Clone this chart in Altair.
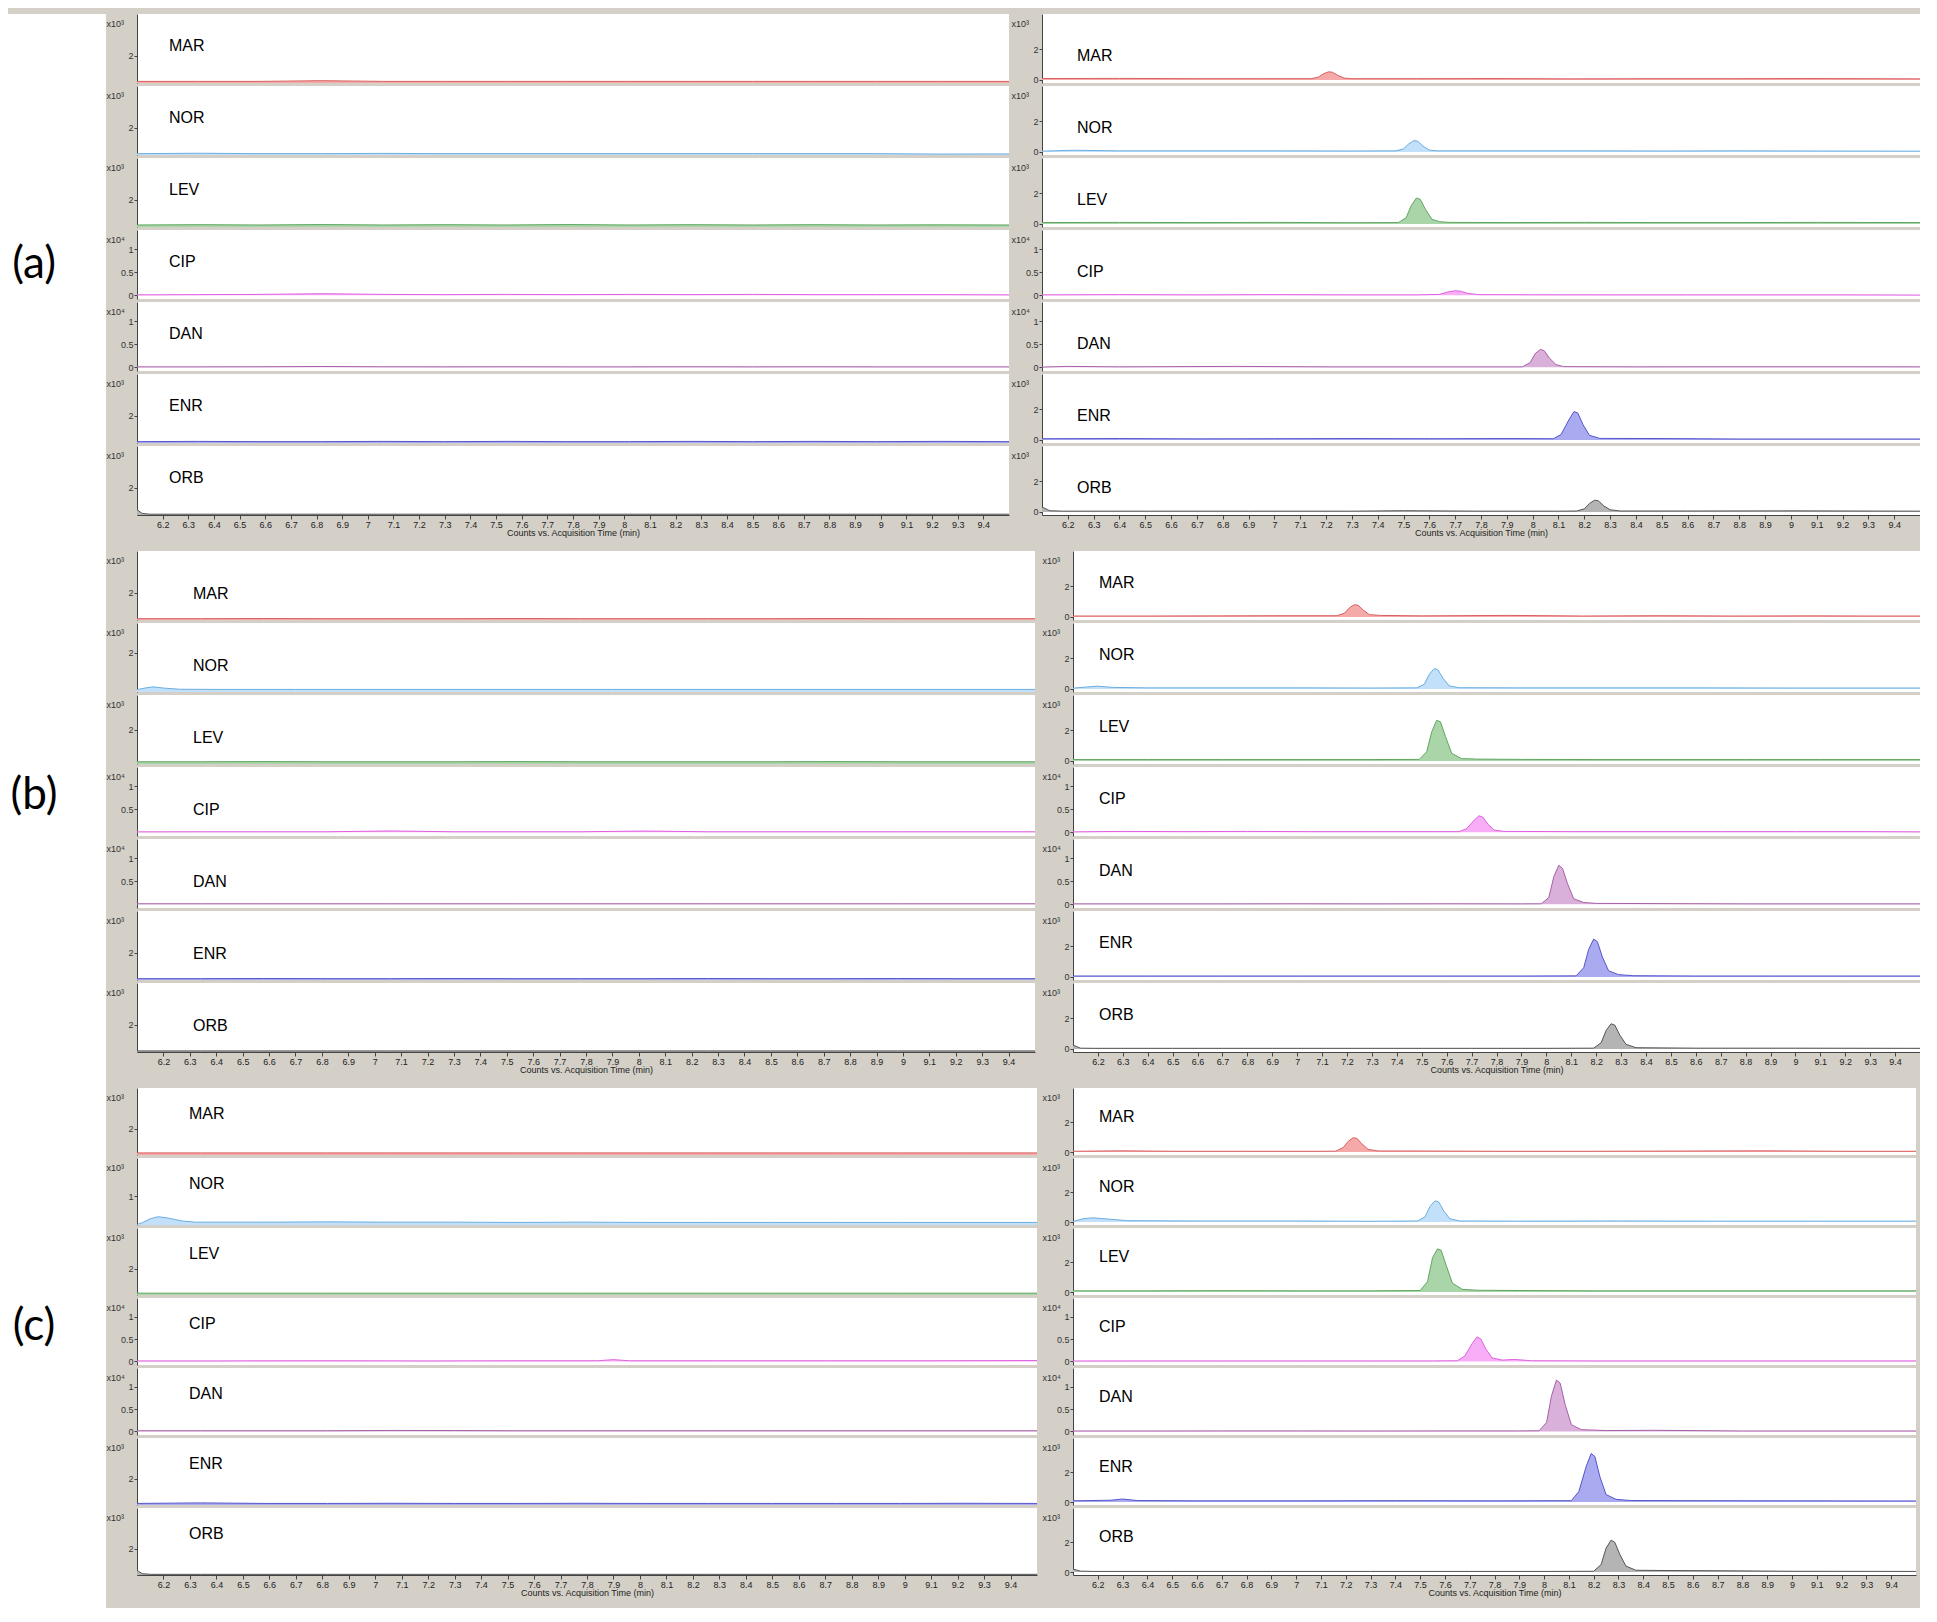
import altair as alt
import pandas as pd

# ---------------- data ----------------
ROW_LABELS = ["(a)", "(b)", "(c)"]
COMPOUNDS = ["MAR", "NOR", "LEV", "CIP", "DAN", "ENR", "ORB"]
EXP_TITLE = {"MAR": "x10³", "NOR": "x10³", "LEV": "x10³", "CIP": "x10⁴",
             "DAN": "x10⁴", "ENR": "x10³", "ORB": "x10³"}
X_TICKS = [6.2, 6.3, 6.4, 6.5, 6.6, 6.7, 6.8, 6.9, 7.0, 7.1, 7.2, 7.3, 7.4, 7.5,
           7.6, 7.7, 7.8, 7.9, 8.0, 8.1, 8.2, 8.3, 8.4, 8.5, 8.6, 8.7, 8.8, 8.9,
           9.0, 9.1, 9.2, 9.3, 9.4]
X_TITLE = "Counts vs. Acquisition Time (min)"

T_FLAT = [6.10, 6.34, 6.58, 6.82, 7.06, 7.30, 7.54, 7.78, 8.02, 8.26, 8.50, 8.74, 8.98, 9.22, 9.50]
T_SPIKE = [6.10, 6.12, 6.15, 6.34, 6.58, 6.82, 7.06, 7.30, 7.54, 7.78, 8.02, 8.26, 8.50, 8.74, 8.98, 9.22, 9.50]

# ---- (a) blank ----
a_left_MAR_v = [0.12, 0.12, 0.12, 0.17, 0.12, 0.12, 0.12, 0.12, 0.12, 0.12, 0.12, 0.12, 0.12, 0.12, 0.12]
a_left_NOR_v = [0.10, 0.13, 0.10, 0.10, 0.12, 0.10, 0.10, 0.10, 0.10, 0.10, 0.10, 0.10, 0.10, 0.07, 0.08]
a_left_LEV_v = [0.15, 0.17, 0.15, 0.18, 0.15, 0.17, 0.15, 0.18, 0.15, 0.17, 0.15, 0.17, 0.15, 0.16, 0.15]
a_left_CIP_v = [0.01, 0.015, 0.02, 0.035, 0.02, 0.015, 0.02, 0.015, 0.02, 0.015, 0.02, 0.015, 0.015, 0.015, 0.01]
a_left_DAN_v = [0.01, 0.01, 0.012, 0.018, 0.012, 0.01, 0.012, 0.01, 0.01, 0.012, 0.01, 0.012, 0.01, 0.01, 0.01]
a_left_ENR_v = [0.10, 0.12, 0.10, 0.10, 0.12, 0.10, 0.12, 0.10, 0.10, 0.12, 0.10, 0.12, 0.10, 0.12, 0.10]
a_left_ORB_v = [0.40, 0.12, 0.06, 0.06, 0.06, 0.06, 0.06, 0.06, 0.06, 0.06, 0.06, 0.06, 0.06, 0.06, 0.06, 0.06, 0.06]

# ---- (a) spiked ----
a_right_MAR_t = [6.10, 6.40, 6.70, 6.95, 7.14, 7.17, 7.19, 7.21, 7.225, 7.245, 7.27, 7.30, 7.55, 7.85, 8.15, 8.45, 8.75, 9.05, 9.30, 9.50]
a_right_MAR_v = [0.09, 0.10, 0.08, 0.08, 0.08, 0.18, 0.40, 0.53, 0.50, 0.30, 0.12, 0.08, 0.08, 0.09, 0.07, 0.08, 0.08, 0.09, 0.08, 0.07]
a_right_NOR_t = [6.10, 6.22, 6.40, 6.70, 7.00, 7.30, 7.47, 7.50, 7.52, 7.54, 7.555, 7.575, 7.60, 7.63, 7.90, 8.20, 8.50, 8.80, 9.10, 9.50]
a_right_NOR_v = [0.05, 0.11, 0.07, 0.07, 0.07, 0.06, 0.07, 0.20, 0.52, 0.74, 0.70, 0.38, 0.12, 0.07, 0.07, 0.07, 0.06, 0.07, 0.06, 0.05]
a_right_LEV_t = [6.10, 6.40, 6.70, 7.00, 7.30, 7.48, 7.51, 7.53, 7.55, 7.565, 7.585, 7.61, 7.64, 7.68, 7.90, 8.20, 8.50, 8.80, 9.10, 9.50]
a_right_LEV_v = [0.09, 0.10, 0.09, 0.10, 0.08, 0.09, 0.40, 1.20, 1.69, 1.60, 0.95, 0.30, 0.14, 0.10, 0.09, 0.10, 0.09, 0.09, 0.10, 0.09]
a_right_CIP_t = [6.10, 6.40, 6.70, 7.00, 7.30, 7.55, 7.64, 7.67, 7.70, 7.72, 7.75, 7.79, 8.00, 8.30, 8.60, 8.90, 9.20, 9.50]
a_right_CIP_v = [0.01, 0.015, 0.01, 0.015, 0.01, 0.01, 0.02, 0.07, 0.10, 0.09, 0.04, 0.015, 0.012, 0.01, 0.01, 0.01, 0.01, 0.005]
a_right_DAN_t = [6.10, 6.20, 6.40, 6.85, 7.20, 7.60, 7.90, 7.96, 7.99, 8.01, 8.03, 8.045, 8.065, 8.09, 8.12, 8.40, 8.80, 9.20, 9.50]
a_right_DAN_v = [0.005, 0.02, 0.01, 0.02, 0.01, 0.01, 0.01, 0.01, 0.10, 0.30, 0.39, 0.36, 0.20, 0.06, 0.015, 0.01, 0.012, 0.012, 0.01]
a_right_ENR_t = [6.10, 6.40, 6.70, 7.00, 7.30, 7.60, 7.90, 8.08, 8.11, 8.14, 8.16, 8.175, 8.195, 8.22, 8.26, 8.50, 8.80, 9.10, 9.50]
a_right_ENR_v = [0.08, 0.09, 0.07, 0.08, 0.09, 0.08, 0.09, 0.08, 0.35, 1.30, 1.85, 1.75, 1.00, 0.30, 0.10, 0.09, 0.06, 0.06, 0.06]
a_right_ORB_t = [6.10, 6.13, 6.18, 6.50, 6.90, 7.30, 7.50, 7.80, 8.10, 8.17, 8.20, 8.22, 8.24, 8.255, 8.275, 8.30, 8.34, 8.60, 9.00, 9.50]
a_right_ORB_v = [0.32, 0.08, 0.05, 0.05, 0.05, 0.05, 0.08, 0.05, 0.05, 0.06, 0.20, 0.55, 0.77, 0.72, 0.40, 0.14, 0.06, 0.06, 0.07, 0.05]

# ---- (b) blank ----
b_left_MAR_v = [0.10, 0.10, 0.11, 0.10, 0.10, 0.10, 0.11, 0.10, 0.10, 0.10, 0.10, 0.11, 0.10, 0.10, 0.10]
b_left_NOR_t = [6.10, 6.13, 6.16, 6.20, 6.26, 6.40, 6.70, 7.00, 7.30, 7.60, 7.90, 8.20, 8.50, 8.80, 9.10, 9.50]
b_left_NOR_v = [0.12, 0.20, 0.26, 0.20, 0.14, 0.13, 0.13, 0.13, 0.13, 0.13, 0.13, 0.13, 0.13, 0.13, 0.13, 0.13]
b_left_LEV_v = [0.13, 0.13, 0.14, 0.13, 0.13, 0.13, 0.14, 0.13, 0.13, 0.13, 0.13, 0.14, 0.13, 0.13, 0.13]
b_left_CIP_v = [0.01, 0.012, 0.012, 0.012, 0.03, 0.012, 0.012, 0.012, 0.028, 0.012, 0.012, 0.012, 0.012, 0.012, 0.012]
b_left_DAN_v = [0.012, 0.012, 0.012, 0.012, 0.012, 0.012, 0.012, 0.012, 0.012, 0.012, 0.012, 0.012, 0.012, 0.012, 0.012]
b_left_ENR_v = [0.10, 0.10, 0.11, 0.10, 0.10, 0.11, 0.10, 0.10, 0.10, 0.11, 0.10, 0.10, 0.11, 0.10, 0.10]
b_left_ORB_v = [0.08, 0.08, 0.08, 0.08, 0.08, 0.08, 0.08, 0.08, 0.08, 0.08, 0.08, 0.08, 0.08, 0.08, 0.08]

# ---- (b) spiked ----
b_right_MAR_t = [6.10, 6.40, 6.70, 6.90, 7.16, 7.19, 7.21, 7.23, 7.245, 7.265, 7.29, 7.33, 7.50, 7.85, 8.15, 8.45, 8.75, 9.05, 9.30, 9.50]
b_right_MAR_v = [0.06, 0.06, 0.07, 0.08, 0.08, 0.25, 0.60, 0.80, 0.76, 0.45, 0.15, 0.10, 0.07, 0.10, 0.06, 0.08, 0.06, 0.07, 0.06, 0.06]
b_right_NOR_t = [6.10, 6.15, 6.20, 6.26, 6.40, 6.70, 7.00, 7.30, 7.48, 7.51, 7.53, 7.55, 7.565, 7.585, 7.61, 7.65, 7.90, 8.20, 8.60, 9.00, 9.50]
b_right_NOR_v = [0.05, 0.12, 0.18, 0.10, 0.07, 0.07, 0.07, 0.06, 0.07, 0.30, 0.95, 1.33, 1.25, 0.70, 0.20, 0.08, 0.07, 0.07, 0.07, 0.06, 0.06]
b_right_LEV_t = [6.10, 6.40, 6.70, 7.00, 7.30, 7.49, 7.52, 7.54, 7.56, 7.575, 7.595, 7.62, 7.66, 7.72, 7.90, 8.20, 8.50, 8.80, 9.10, 9.50]
b_right_LEV_v = [0.09, 0.09, 0.09, 0.09, 0.09, 0.10, 0.60, 1.90, 2.65, 2.55, 1.60, 0.50, 0.15, 0.12, 0.10, 0.09, 0.09, 0.09, 0.09, 0.09]
b_right_CIP_t = [6.10, 6.30, 6.55, 6.80, 7.05, 7.30, 7.55, 7.65, 7.68, 7.71, 7.73, 7.745, 7.765, 7.79, 7.83, 8.10, 8.40, 8.70, 9.00, 9.30, 9.50]
b_right_CIP_v = [0.01, 0.02, 0.015, 0.02, 0.015, 0.015, 0.015, 0.015, 0.08, 0.26, 0.36, 0.33, 0.18, 0.05, 0.02, 0.015, 0.015, 0.015, 0.015, 0.015, 0.01]
b_right_DAN_t = [6.10, 6.40, 6.70, 7.00, 7.30, 7.60, 7.90, 7.98, 8.01, 8.03, 8.05, 8.065, 8.085, 8.11, 8.15, 8.20, 8.50, 8.80, 9.10, 9.50]
b_right_DAN_v = [0.01, 0.01, 0.01, 0.012, 0.01, 0.012, 0.01, 0.012, 0.15, 0.60, 0.85, 0.78, 0.45, 0.12, 0.04, 0.02, 0.015, 0.01, 0.01, 0.01]
b_right_ENR_t = [6.10, 6.40, 6.70, 7.00, 7.30, 7.60, 7.90, 8.12, 8.15, 8.17, 8.19, 8.205, 8.225, 8.25, 8.29, 8.35, 8.60, 8.90, 9.20, 9.50]
b_right_ENR_v = [0.06, 0.06, 0.06, 0.06, 0.06, 0.06, 0.06, 0.07, 0.60, 1.80, 2.47, 2.30, 1.30, 0.40, 0.15, 0.08, 0.06, 0.06, 0.06, 0.06]
b_right_ORB_t = [6.10, 6.13, 6.18, 6.50, 6.90, 7.30, 7.70, 8.00, 8.19, 8.22, 8.24, 8.26, 8.275, 8.295, 8.32, 8.36, 8.60, 9.00, 9.50]
b_right_ORB_v = [0.25, 0.05, 0.04, 0.04, 0.04, 0.04, 0.04, 0.04, 0.05, 0.40, 1.20, 1.64, 1.55, 0.90, 0.30, 0.08, 0.05, 0.05, 0.04]

# ---- (c) blank ----
c_left_MAR_v = [0.16, 0.16, 0.16, 0.16, 0.16, 0.16, 0.16, 0.16, 0.16, 0.16, 0.16, 0.16, 0.16, 0.16, 0.16]
c_left_NOR_t = [6.10, 6.12, 6.15, 6.18, 6.22, 6.27, 6.32, 6.58, 6.82, 7.06, 7.30, 7.54, 7.78, 8.02, 8.26, 8.50, 8.74, 8.98, 9.22, 9.50]
c_left_NOR_v = [0.02, 0.08, 0.22, 0.29, 0.24, 0.14, 0.10, 0.10, 0.11, 0.10, 0.10, 0.09, 0.10, 0.09, 0.09, 0.09, 0.09, 0.09, 0.09, 0.09]
c_left_LEV_v = [0.14, 0.14, 0.14, 0.14, 0.14, 0.14, 0.14, 0.14, 0.14, 0.14, 0.14, 0.14, 0.14, 0.14, 0.14]
c_left_CIP_t = [6.10, 6.40, 6.80, 7.20, 7.60, 7.84, 7.90, 7.96, 8.30, 8.70, 9.10, 9.50]
c_left_CIP_v = [0.012, 0.012, 0.015, 0.012, 0.015, 0.015, 0.04, 0.015, 0.015, 0.015, 0.015, 0.02]
c_left_DAN_v = [0.015, 0.015, 0.015, 0.015, 0.022, 0.02, 0.015, 0.015, 0.015, 0.015, 0.015, 0.015, 0.015, 0.015, 0.015]
c_left_ENR_v = [0.12, 0.16, 0.12, 0.12, 0.13, 0.12, 0.12, 0.13, 0.12, 0.12, 0.12, 0.12, 0.12, 0.13, 0.12]
c_left_ORB_v = [0.35, 0.10, 0.05, 0.05, 0.05, 0.05, 0.05, 0.05, 0.05, 0.05, 0.05, 0.05, 0.05, 0.05, 0.05, 0.05, 0.05]

# ---- (c) spiked ----
c_right_MAR_t = [6.10, 6.30, 6.50, 6.80, 7.10, 7.16, 7.19, 7.21, 7.23, 7.245, 7.265, 7.29, 7.33, 7.45, 7.80, 8.20, 8.90, 9.20, 9.50]
c_right_MAR_v = [0.05, 0.08, 0.05, 0.05, 0.05, 0.06, 0.30, 0.72, 0.96, 0.92, 0.55, 0.18, 0.07, 0.07, 0.05, 0.05, 0.08, 0.05, 0.05]
c_right_NOR_t = [6.10, 6.14, 6.18, 6.24, 6.32, 6.60, 7.00, 7.30, 7.49, 7.52, 7.54, 7.56, 7.575, 7.595, 7.62, 7.66, 7.90, 8.30, 8.70, 9.10, 9.50]
c_right_NOR_v = [0.03, 0.22, 0.28, 0.20, 0.09, 0.07, 0.07, 0.05, 0.07, 0.35, 1.05, 1.42, 1.35, 0.75, 0.22, 0.07, 0.06, 0.07, 0.06, 0.06, 0.06]
c_right_LEV_t = [6.10, 6.40, 6.70, 7.00, 7.30, 7.50, 7.53, 7.55, 7.57, 7.585, 7.605, 7.63, 7.67, 7.73, 7.90, 8.20, 8.50, 8.80, 9.10, 9.50]
c_right_LEV_v = [0.08, 0.08, 0.09, 0.08, 0.08, 0.10, 0.70, 2.30, 2.90, 2.80, 1.80, 0.60, 0.18, 0.12, 0.10, 0.08, 0.08, 0.08, 0.08, 0.08]
c_right_CIP_t = [6.10, 6.40, 6.70, 7.00, 7.30, 7.55, 7.65, 7.68, 7.71, 7.73, 7.745, 7.765, 7.79, 7.83, 7.88, 7.95, 8.20, 8.60, 9.00, 9.50]
c_right_CIP_v = [0.01, 0.012, 0.012, 0.012, 0.012, 0.012, 0.015, 0.12, 0.40, 0.55, 0.50, 0.28, 0.08, 0.03, 0.045, 0.015, 0.012, 0.012, 0.012, 0.012]
c_right_DAN_t = [6.10, 6.40, 6.70, 7.00, 7.30, 7.60, 7.90, 7.98, 8.01, 8.03, 8.05, 8.065, 8.085, 8.11, 8.15, 8.25, 8.45, 8.80, 9.20, 9.50]
c_right_DAN_v = [0.01, 0.01, 0.012, 0.012, 0.01, 0.012, 0.012, 0.015, 0.20, 0.80, 1.15, 1.08, 0.60, 0.15, 0.04, 0.02, 0.025, 0.01, 0.01, 0.01]
c_right_ENR_t = [6.10, 6.25, 6.30, 6.36, 6.60, 7.00, 7.40, 7.80, 8.11, 8.14, 8.17, 8.19, 8.205, 8.225, 8.25, 8.29, 8.35, 8.60, 9.00, 9.50]
c_right_ENR_v = [0.08, 0.12, 0.20, 0.10, 0.08, 0.08, 0.09, 0.08, 0.09, 0.70, 2.40, 3.26, 3.05, 1.70, 0.50, 0.18, 0.10, 0.09, 0.08, 0.07]
c_right_ORB_t = [6.10, 6.13, 6.18, 6.50, 6.90, 7.30, 7.70, 8.00, 8.20, 8.23, 8.25, 8.27, 8.285, 8.305, 8.33, 8.37, 8.50, 8.75, 9.00, 9.50]
c_right_ORB_v = [0.20, 0.06, 0.04, 0.04, 0.04, 0.04, 0.04, 0.04, 0.05, 0.50, 1.60, 2.14, 2.00, 1.20, 0.40, 0.12, 0.10, 0.08, 0.05, 0.04]

TRACES = {
    ("a", "left", "MAR"): (T_FLAT, a_left_MAR_v), ("a", "left", "NOR"): (T_FLAT, a_left_NOR_v),
    ("a", "left", "LEV"): (T_FLAT, a_left_LEV_v), ("a", "left", "CIP"): (T_FLAT, a_left_CIP_v),
    ("a", "left", "DAN"): (T_FLAT, a_left_DAN_v), ("a", "left", "ENR"): (T_FLAT, a_left_ENR_v),
    ("a", "left", "ORB"): (T_SPIKE, a_left_ORB_v),
    ("a", "right", "MAR"): (a_right_MAR_t, a_right_MAR_v), ("a", "right", "NOR"): (a_right_NOR_t, a_right_NOR_v),
    ("a", "right", "LEV"): (a_right_LEV_t, a_right_LEV_v), ("a", "right", "CIP"): (a_right_CIP_t, a_right_CIP_v),
    ("a", "right", "DAN"): (a_right_DAN_t, a_right_DAN_v), ("a", "right", "ENR"): (a_right_ENR_t, a_right_ENR_v),
    ("a", "right", "ORB"): (a_right_ORB_t, a_right_ORB_v),
    ("b", "left", "MAR"): (T_FLAT, b_left_MAR_v), ("b", "left", "NOR"): (b_left_NOR_t, b_left_NOR_v),
    ("b", "left", "LEV"): (T_FLAT, b_left_LEV_v), ("b", "left", "CIP"): (T_FLAT, b_left_CIP_v),
    ("b", "left", "DAN"): (T_FLAT, b_left_DAN_v), ("b", "left", "ENR"): (T_FLAT, b_left_ENR_v),
    ("b", "left", "ORB"): (T_FLAT, b_left_ORB_v),
    ("b", "right", "MAR"): (b_right_MAR_t, b_right_MAR_v), ("b", "right", "NOR"): (b_right_NOR_t, b_right_NOR_v),
    ("b", "right", "LEV"): (b_right_LEV_t, b_right_LEV_v), ("b", "right", "CIP"): (b_right_CIP_t, b_right_CIP_v),
    ("b", "right", "DAN"): (b_right_DAN_t, b_right_DAN_v), ("b", "right", "ENR"): (b_right_ENR_t, b_right_ENR_v),
    ("b", "right", "ORB"): (b_right_ORB_t, b_right_ORB_v),
    ("c", "left", "MAR"): (T_FLAT, c_left_MAR_v), ("c", "left", "NOR"): (c_left_NOR_t, c_left_NOR_v),
    ("c", "left", "LEV"): (T_FLAT, c_left_LEV_v), ("c", "left", "CIP"): (c_left_CIP_t, c_left_CIP_v),
    ("c", "left", "DAN"): (T_FLAT, c_left_DAN_v), ("c", "left", "ENR"): (T_FLAT, c_left_ENR_v),
    ("c", "left", "ORB"): (T_SPIKE, c_left_ORB_v),
    ("c", "right", "MAR"): (c_right_MAR_t, c_right_MAR_v), ("c", "right", "NOR"): (c_right_NOR_t, c_right_NOR_v),
    ("c", "right", "LEV"): (c_right_LEV_t, c_right_LEV_v), ("c", "right", "CIP"): (c_right_CIP_t, c_right_CIP_v),
    ("c", "right", "DAN"): (c_right_DAN_t, c_right_DAN_v), ("c", "right", "ENR"): (c_right_ENR_t, c_right_ENR_v),
    ("c", "right", "ORB"): (c_right_ORB_t, c_right_ORB_v),
}

# ---------------- styling / layout ----------------
LINE = {"MAR": "#d9605f", "NOR": "#6aaee0", "LEV": "#5fa65f", "CIP": "#e060e0",
        "DAN": "#a860a8", "ENR": "#5555cc", "ORB": "#555555"}
FILL = {"MAR": "#f5a9a9", "NOR": "#c2e0fa", "LEV": "#a9d5a9", "CIP": "#f7aef7",
        "DAN": "#d9b0d9", "ENR": "#aaaaf0", "ORB": "#b4b4b4"}
GRAY = "#d4d0c8"
X_DOMAIN = [6.1, 9.5]
STRIP_H = {"a": 69, "b": 69, "c": 67}
PANEL_W = {("a", "left"): 872, ("a", "right"): 878, ("b", "left"): 898,
           ("b", "right"): 847, ("c", "left"): 900, ("c", "right"): 843}
H_SPACE = {"a": 2, "b": 7, "c": 5}
LABEL_POS = {("a", "left"): (32, 40), ("a", "right"): (35, 50), ("b", "left"): (56, 51),
             ("b", "right"): (26, 40), ("c", "left"): (52, 34), ("c", "right"): (26, 37)}
Y_OVERRIDE = {("b", "left", "NOR"): ([0, 3.5], [2]), ("b", "left", "LEV"): ([0, 4.0], [2]),
              ("c", "left", "NOR"): ([0, 2.35], [1]), ("b", "left", "CIP"): ([-0.08, 1.42], [0.5, 1]),
              ("b", "left", "DAN"): ([-0.08, 1.42], [0.5, 1])}
FONT = "Liberation Sans"
ROW_SPACE = 14
TOTAL_H = 1594


def y_cfg(row, side, comp):
    key = (row, side, comp)
    if key in Y_OVERRIDE:
        return Y_OVERRIDE[key]
    big = EXP_TITLE[comp] == "x10⁴"
    if side == "right":
        return ([-0.08, 1.42], [0, 0.5, 1]) if big else ([-0.2, 4.3], [0, 2])
    return ([-0.08, 1.42], [0, 0.5, 1]) if big else ([0, 5.1], [2])


def make_strip(row, side, comp, bottom):
    t, v = TRACES[(row, side, comp)]
    df = pd.DataFrame({"t": t, "v": v})
    dom, ticks = y_cfg(row, side, comp)
    xscale = alt.Scale(domain=X_DOMAIN, nice=False, zero=False)
    if bottom:
        x_axis = alt.Axis(values=X_TICKS, format=".1~f", title=X_TITLE, labelFontSize=9,
                          labelColor="#222", tickSize=4, tickColor="#444", domainColor="#444",
                          labelPadding=1, labelOverlap=False, labelFlush=False, grid=False,
                          titleFontSize=9, titleFontWeight="normal", titleColor="#222",
                          titlePadding=-1)
        xenc = alt.X("t:Q", scale=xscale, axis=x_axis)
    else:
        xenc = alt.X("t:Q", scale=xscale, axis=None)
    y_axis = alt.Axis(values=ticks, format="~g", title=EXP_TITLE[comp], titleAngle=0,
                      titleAlign="left", titleBaseline="top", titleX=-31, titleY=5,
                      titleFontSize=9, titleFontWeight="normal", titleColor="#333",
                      labelFontSize=9, labelColor="#333", labelPadding=1, tickSize=3,
                      tickColor="#444", domainColor="#444", grid=False, labelOverlap=False)
    yenc = alt.Y("v:Q", scale=alt.Scale(domain=dom, nice=False, zero=False), axis=y_axis)
    base = alt.Chart(df).encode(x=xenc, y=yenc)
    area = base.mark_area(color=FILL[comp], opacity=1, clip=True)
    line = base.mark_line(color=LINE[comp], strokeWidth=1, clip=True)
    dx, top = LABEL_POS[(row, side)]
    title = alt.TitleParams(text=comp, anchor="start", frame="group", orient="top",
                            baseline="top", offset=-top, dx=dx, fontSize=16,
                            fontWeight="normal", color="black", font=FONT)
    return alt.layer(area, line).properties(width=PANEL_W[(row, side)],
                                            height=STRIP_H[row], title=title)


row_charts = []
for row in ["a", "b", "c"]:
    panels = []
    for side in ["left", "right"]:
        strips = [make_strip(row, side, c, i == len(COMPOUNDS) - 1) for i, c in enumerate(COMPOUNDS)]
        panels.append(alt.vconcat(*strips, spacing=3, bounds="flush"))
    row_charts.append(alt.hconcat(*panels, spacing=H_SPACE[row]))

body = alt.vconcat(*row_charts, spacing=ROW_SPACE)

labels = alt.Chart(pd.DataFrame({"label": ROW_LABELS})).mark_text(
    font="Lato", fontSize=44, color="black", dx=-23, dy=-15
).encode(
    y=alt.Y("label:N", axis=None, scale=alt.Scale(paddingInner=0, paddingOuter=0)),
    text="label:N",
).properties(width=98, height=TOTAL_H)

chart = alt.hconcat(labels, body, spacing=0).configure(
    background=GRAY, padding={"top": 6, "left": 0, "right": 0, "bottom": 0}, font=FONT
).configure_view(fill="white", strokeWidth=0)

chart.save("out.html", embed_options={"renderer": "svg", "actions": False})
